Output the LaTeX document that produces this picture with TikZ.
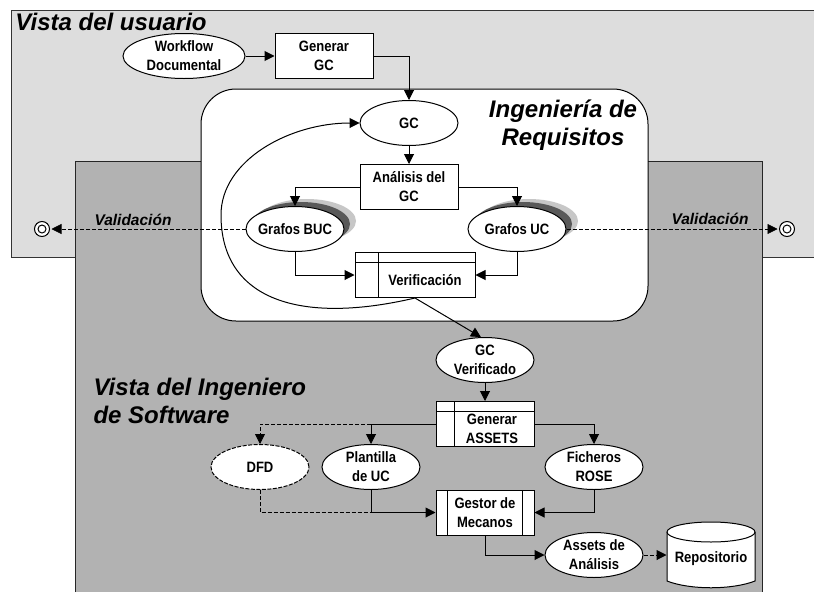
\documentclass[tikz,border=0pt]{standalone}
\usepackage{fontspec}
\setmainfont{Liberation Sans}
\newfontfamily\rotulofont[FakeStretch=0.87]{Liberation Sans}
\usetikzlibrary{shapes.geometric,arrows.meta}
\definecolor{vistaclara}{HTML}{DDDDDD}
\definecolor{vistaoscura}{HTML}{B2B2B2}
\tikzset{
  rotulo/.style={font=\rotulofont\bfseries\fontsize{15}{19}\selectfont,align=center,inner sep=0},
  titulo/.style={font=\bfseries\itshape\fontsize{24}{28}\selectfont,inner sep=0},
  validacion/.style={font=\bfseries\itshape\fontsize{15.5}{18}\selectfont,inner sep=0},
  dato/.style={rotulo,ellipse,draw,fill=white,minimum width=98,minimum height=45},
  caja/.style={rotulo,rectangle,draw,fill=white,minimum width=98,minimum height=45},
  flecha/.style={-{Triangle[length=10,width=10]}},
  punteada/.style={flecha,dashed,dash pattern=on 4 off 2},
}
\begin{document}
\begin{tikzpicture}[x=1pt,y=-1pt,line width=1pt]
\useasboundingbox (0,0) rectangle (814,592);
\fill [vistaclara] (11,10) rectangle (814,257);
\draw [black!80] (814,10) -- (11,10) -- (11,257) -- (814,257);
\fill [vistaoscura] (75,161) rectangle (762,592);
\draw [black!85] (75,592) -- (75,161) -- (762,161) -- (762,592);
\draw [fill=white,rounded corners=35] (201,89) rectangle (648,321);
\node [titulo,anchor=base west] at (15,30) {Vista del usuario};
\node [titulo,align=center,anchor=center] at (563,125) {Ingeniería de\\Requisitos};
\node [titulo,align=left,anchor=west] at (93,401) {Vista del Ingeniero\\de Software};
\node [validacion] at (133,220) {Validación};
\node [validacion] at (710,219) {Validación};
\fill [black!22] (307,221) ellipse [x radius=49,y radius=22];
\fill [black!65] (301,224) ellipse [x radius=49,y radius=22];
\fill [black!22] (529,221) ellipse [x radius=49,y radius=22];
\fill [black!65] (523,224) ellipse [x radius=49,y radius=22];
\node (workflow) [dato,minimum width=122] at (184,56) {Workflow\\Documental};
\node (generarGC) [caja] at (324,56) {Generar\\GC};
\node (gc) [dato] at (409,123) {GC};
\node (analisis) [caja] at (409,187) {Análisis del\\GC};
\node (grafosBUC) [dato] at (295,229) {\makebox[0pt]{Grafos BUC}};
\node (grafosUC) [dato] at (517,229) {Grafos UC};
\node (verificacion) [caja,minimum width=120] at (415,275) {};
\draw (355,262) -- (475,262);
\draw (378,252.5) -- (378,297.5);
\node [rotulo] at (425,280) {Verificación};
\node (gcVerificado) [dato] at (485,360) {\makebox[0pt]{GC}\\\makebox[0pt]{Verificado}};
\node (generarAssets) [caja] at (485,424) {};
\draw (436,411) -- (534,411);
\draw (454,401.5) -- (454,446.5);
\node [rotulo] at (492,429) {Generar\\ASSETS};
\node (dfd) [dato,dashed,dash pattern=on 4 off 1.5] at (260,467) {DFD};
\node (plantilla) [dato] at (371,467) {Plantilla\\de UC};
\node (ficheros) [dato] at (594,467) {Ficheros\\ROSE};
\node (gestor) [caja] at (485,512.5) {Gestor de\\Mecanos};
\draw (447,490) -- (447,535);
\draw (522,490) -- (522,535);
\node (assets) [dato] at (594,555) {Assets de\\Análisis};
\draw [fill=white] (667,532) -- (667,581) .. controls (690,590) and (732,590) .. (755,581) -- (755,532);
\draw [fill=white] (711,532) ellipse [x radius=44,y radius=10];
\node (repositorio) [rotulo,minimum width=88,minimum height=30] at (711,559) {Repositorio};
\node (dianaIzq) [circle,draw,fill=white,minimum size=15,inner sep=0] at (42,229) {};
\node (dianaIzqDentro) [circle,draw,minimum size=8,inner sep=0] at (42,229) {};
\node (dianaDer) [circle,draw,fill=white,minimum size=15,inner sep=0] at (787,229) {};
\node (dianaDerDentro) [circle,draw,minimum size=8,inner sep=0] at (787,229) {};
\draw [flecha] (workflow) -- (generarGC);
\draw [flecha] (generarGC.east) -| (gc.north);
\draw [flecha] (gc) -- (analisis);
\draw [flecha] (analisis.west) -| (grafosBUC.north);
\draw [flecha] (analisis.east) -| (grafosUC.north);
\draw [flecha] (grafosBUC.south) |- (verificacion.west);
\draw [flecha] (grafosUC.south) |- (verificacion.east);
\draw [flecha] (verificacion.south) .. controls (300,325) and (221,300) .. (221,215) .. controls (221,160) and (290,123) .. (gc.west);
\draw [flecha] (verificacion.south) -- (gcVerificado.100);
\draw [flecha] (gcVerificado) -- (generarAssets);
\draw [punteada,line width=.8pt] (plantilla.north |- generarAssets.west) -| (dfd.north);
\draw [flecha] (generarAssets.west) -| (plantilla.north);
\draw [flecha] (generarAssets.east) -| (ficheros.north);
\draw [dashed,dash pattern=on 4 off 2] (dfd.south) |- (plantilla.south |- gestor.west);
\draw [flecha] (plantilla.south) |- (gestor.west);
\draw [flecha] (ficheros.south) |- (gestor.east);
\draw [flecha] (gestor.south) |- (assets.west);
\draw [punteada] (assets.east) -- (repositorio.west |- assets.east);
\draw [punteada,line width=.6pt,shorten >=1.5] (grafosBUC.west) -- (dianaIzq.east);
\draw [punteada,line width=.6pt,shorten >=1.5] (grafosUC.east) -- (dianaDer.west);
\end{tikzpicture}
\end{document}
